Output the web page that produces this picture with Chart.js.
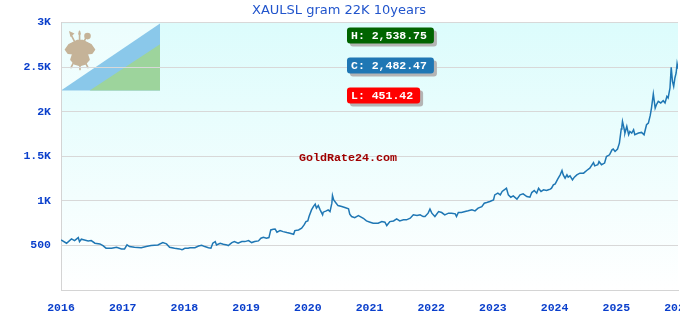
<!DOCTYPE html>
<html>
<head>
<meta charset="utf-8">
<script src="https://cdn.jsdelivr.net/npm/chart.js@4/dist/chart.umd.min.js"></script>
<style>
html,body{margin:0;padding:0;background:#fff;overflow:hidden;}
#wrap{width:680px;height:320px;}
</style>
</head>
<body>
<div id="wrap"><canvas id="c" width="680" height="320"></canvas></div>
<script>
const TITLE = 'XAULSL gram 22K 10years';
const WATERMARK = 'GoldRate24.com';
const X_MIN = 2016, X_MAX = 2026;
const Y_MIN = 0, Y_MAX = 3000, Y_STEP = 500;

const years = [
2016.00,2016.09,2016.17,2016.22,2016.28,2016.30,2016.33,2016.38,2016.44,2016.49,
2016.55,2016.63,2016.68,2016.73,2016.82,2016.90,2016.98,2017.03,2017.07,2017.11,
2017.19,2017.30,2017.38,2017.46,2017.57,2017.65,2017.71,2017.76,2017.84,2017.92,
2017.96,2017.98,2018.01,2018.06,2018.09,2018.17,2018.23,2018.28,2018.33,2018.39,
2018.43,2018.46,2018.50,2018.52,2018.58,2018.63,2018.69,2018.71,2018.77,2018.81,
2018.87,2018.93,2018.98,2019.04,2019.09,2019.14,2019.20,2019.24,2019.28,2019.33,
2019.37,2019.40,2019.44,2019.47,2019.50,2019.55,2019.60,2019.66,2019.71,2019.77,
2019.79,2019.85,2019.90,2019.94,2019.97,2020.00,2020.02,2020.06,2020.09,2020.12,
2020.14,2020.17,2020.20,2020.24,2020.25,2020.30,2020.33,2020.36,2020.39,2020.40,
2020.42,2020.46,2020.49,2020.55,2020.60,2020.66,2020.68,2020.71,2020.76,2020.82,
2020.85,2020.90,2020.95,2021.01,2021.06,2021.14,2021.20,2021.25,2021.28,2021.33,
2021.39,2021.44,2021.49,2021.55,2021.60,2021.66,2021.71,2021.77,2021.82,2021.87,
2021.90,2021.95,2021.98,2022.01,2022.06,2022.12,2022.17,2022.22,2022.28,2022.33,
2022.39,2022.41,2022.44,2022.49,2022.55,2022.60,2022.66,2022.71,2022.76,2022.82,
2022.86,2022.90,2022.95,2023.01,2023.03,2023.08,2023.12,2023.15,2023.20,2023.22,
2023.25,2023.29,2023.33,2023.39,2023.44,2023.49,2023.55,2023.60,2023.63,2023.67,
2023.71,2023.74,2023.78,2023.82,2023.87,2023.90,2023.93,2023.95,2023.98,2024.01,
2024.05,2024.09,2024.12,2024.14,2024.17,2024.20,2024.22,2024.25,2024.29,2024.32,
2024.36,2024.41,2024.47,2024.52,2024.57,2024.63,2024.65,2024.70,2024.72,2024.76,
2024.81,2024.84,2024.89,2024.93,2024.95,2024.98,2025.02,2025.05,2025.08,2025.09,
2025.10,2025.13,2025.14,2025.17,2025.20,2025.22,2025.25,2025.28,2025.30,2025.36,
2025.41,2025.45,2025.49,2025.52,2025.55,2025.57,2025.60,2025.63,2025.65,2025.68,
2025.72,2025.76,2025.79,2025.82,2025.84,2025.87,2025.89,2025.91,2025.93,2025.95,
2025.97,2025.985,2026.00
];

const prices = [
562,525,573,554,588,543,570,562,551,554,
525,517,498,469,469,480,461,461,506,487,
480,475,487,498,506,532,517,480,469,461,
451.42,457,469,469,475,475,494,502,487,475,
469,525,543,506,525,513,506,498,532,543,
525,543,543,554,532,543,551,581,592,581,
588,674,682,685,648,666,655,644,637,625,
666,674,693,730,767,775,824,899,936,963,
918,947,899,843,873,888,899,880,974,1060,
1011,974,947,936,925,910,851,824,812,835,
824,805,775,761,749,749,767,761,723,767,
775,798,775,787,787,805,843,835,843,824,
824,862,907,862,824,880,869,843,862,862,
854,824,869,869,880,888,899,888,918,936,
974,982,993,1011,1067,1086,1067,1105,1131,1142,
1067,1041,1056,1019,1067,1079,1048,1041,1093,1116,
1086,1142,1105,1124,1116,1124,1131,1142,1180,1191,
1244,1292,1341,1292,1255,1292,1266,1281,1236,1266,
1292,1311,1311,1341,1367,1430,1393,1405,1442,1405,
1424,1498,1517,1573,1581,1554,1581,1648,1806,1835,
1891,1798,1761,1835,1742,1779,1761,1798,1742,1761,
1768,1742,1854,1873,1959,2041,2199,2041,2079,2116,
2098,2124,2098,2172,2154,2266,2499,2341,2284,2379,
2435,2538.75,2482.47
];

const points = years.map((x, i) => ({x: x, y: prices[i]}));

const MONO = "'Liberation Mono', 'DejaVu Sans Mono', monospace";
const TICK_COLOR = '#0a3fcc';

function fmt(v){
  return v.toLocaleString('en-US', {minimumFractionDigits: 2, maximumFractionDigits: 2});
}

const decorPlugin = {
  id: 'decor',
  beforeDraw(chart){
    const {ctx, chartArea: a} = chart;
    ctx.save();
    const g = ctx.createLinearGradient(0, a.top, 0, a.bottom);
    g.addColorStop(0, '#dcfcfc');
    g.addColorStop(1, '#ffffff');
    ctx.fillStyle = g;
    ctx.fillRect(a.left, a.top, a.right - a.left, a.bottom - a.top);

    // flag (old Lesotho flag), semi-transparent look
    const fx = a.left, fy = a.top + 1, fw = 99, fh = 67;
    ctx.fillStyle = 'rgba(255,255,255,0.45)';
    ctx.fillRect(fx, fy, fw, fh);
    ctx.fillStyle = '#8ac8ea';
    ctx.beginPath();
    ctx.moveTo(fx, fy + fh);
    ctx.lineTo(fx + fw, fy);
    ctx.lineTo(fx + fw, fy + fh);
    ctx.closePath();
    ctx.fill();
    ctx.fillStyle = '#9dd49c';
    ctx.beginPath();
    ctx.moveTo(fx + fw * 0.29, fy + fh);
    ctx.lineTo(fx + fw, fy + fh * 0.31);
    ctx.lineTo(fx + fw, fy + fh);
    ctx.closePath();
    ctx.fill();

    // emblem
    const ox = a.left - 61, oy = a.top - 23;
    const P = (x, y) => [ox + x, oy + y];
    ctx.strokeStyle = '#c5b398';
    ctx.fillStyle = '#c5b398';
    ctx.lineWidth = 1.6;
    ctx.lineCap = 'round';
    const line = (x1, y1, x2, y2) => { ctx.beginPath(); ctx.moveTo(...P(x1, y1)); ctx.lineTo(...P(x2, y2)); ctx.stroke(); };
    line(71, 35, 88, 68);
    line(86, 38, 71, 68);
    line(79.5, 32, 80, 70);
    // spear head
    ctx.beginPath();
    ctx.moveTo(...P(69, 31.5)); ctx.lineTo(...P(74.5, 34)); ctx.lineTo(...P(70.5, 37.5)); ctx.closePath(); ctx.fill();
    // center tip
    ctx.beginPath();
    ctx.moveTo(...P(79.5, 30.5)); ctx.lineTo(...P(81, 35)); ctx.lineTo(...P(78, 35)); ctx.closePath(); ctx.fill();
    // knob
    ctx.beginPath(); ctx.arc(...P(87.5, 36.5), 3.3, 0, Math.PI * 2); ctx.fill();
    // shield body
    const sh = [[77,41],[83,41],[91,45],[94.5,50],[92,53.5],[87,54],[89,60],[85,64.5],[80,66],[75,64.5],[71,60],[73,54],[68,53.5],[65.5,50],[69,45]];
    ctx.beginPath();
    sh.forEach((p, i) => { const q = P(p[0], p[1]); if (i) ctx.lineTo(q[0], q[1]); else ctx.moveTo(q[0], q[1]); });
    ctx.closePath();
    ctx.lineJoin = 'round';
    ctx.fill();
    ctx.stroke();
    ctx.restore();
  },
  afterDatasetsDraw(chart){
    const {ctx, chartArea: a} = chart;
    ctx.save();
    // watermark
    ctx.font = 'bold 11.7px ' + MONO;
    ctx.fillStyle = '#a00000';
    ctx.textAlign = 'center';
    ctx.textBaseline = 'middle';
    ctx.fillText(WATERMARK, 348, 158);

    // H / C / L badges
    const hi = Math.max(...prices), lo = Math.min(...prices), cl = prices[prices.length - 1];
    const badges = [
      {t: 'H: ' + fmt(hi), c: '#006400', y: 27.5},
      {t: 'C: ' + fmt(cl), c: '#1f77b4', y: 57.5},
      {t: 'L: ' + fmt(lo), c: '#ff0000', y: 87.5}
    ];
    ctx.font = 'bold 11.5px ' + MONO;
    ctx.textAlign = 'left';
    badges.forEach(b => {
      const w = ctx.measureText(b.t).width + 11, h = 16, x = 347;
      ctx.fillStyle = '#b4b4b4';
      ctx.beginPath(); ctx.roundRect(x + 3, b.y + 3, w, h, 3); ctx.fill();
      ctx.fillStyle = b.c;
      ctx.beginPath(); ctx.roundRect(x, b.y, w, h, 3); ctx.fill();
      ctx.fillStyle = '#ffffff';
      ctx.fillText(b.t, x + 4, b.y + h / 2 + 0.5);
    });
    ctx.restore();
  }
};

new Chart(document.getElementById('c'), {
  type: 'line',
  data: {
    datasets: [{
      data: points,
      borderColor: '#1f77b4',
      borderWidth: 1.5,
      pointRadius: 0,
      tension: 0,
      fill: false
    }]
  },
  options: {
    responsive: false,
    animation: false,
    events: [],
    layout: {padding: {left: 0, right: 2, top: 0, bottom: 0}},
    plugins: {
      legend: {display: false},
      tooltip: {enabled: false},
      title: {
        display: true,
        text: TITLE,
        color: '#2255cc',
        font: {family: "'DejaVu Sans', sans-serif", size: 13, weight: 'normal'},
        padding: {top: 3, bottom: 4}
      }
    },
    scales: {
      x: {
        type: 'linear',
        min: X_MIN, max: X_MAX,
        grid: {display: false, drawTicks: false},
        border: {display: true, color: '#d4d4d4'},
        ticks: {
          stepSize: 1, autoSkip: false, maxRotation: 0,
          color: TICK_COLOR,
          font: {family: MONO, size: 11.5, weight: 'bold'},
          padding: 11,
          callback: v => String(v)
        },
        afterFit(s){ s.paddingLeft = 0; s.paddingRight = 0; s.height = 30; }
      },
      y: {
        min: Y_MIN, max: Y_MAX,
        grid: {color: '#d8d8d8', drawTicks: false},
        border: {display: true, color: '#d4d4d4'},
        ticks: {
          stepSize: Y_STEP,
          color: TICK_COLOR,
          font: {family: MONO, size: 11.5, weight: 'bold'},
          padding: 10,
          callback: v => v === 0 ? '' : (v >= 1000 ? (v / 1000) + 'K' : String(v))
        },
        afterFit(s){ s.width = 61; }
      }
    }
  },
  plugins: [decorPlugin]
});
</script>
</body>
</html>
